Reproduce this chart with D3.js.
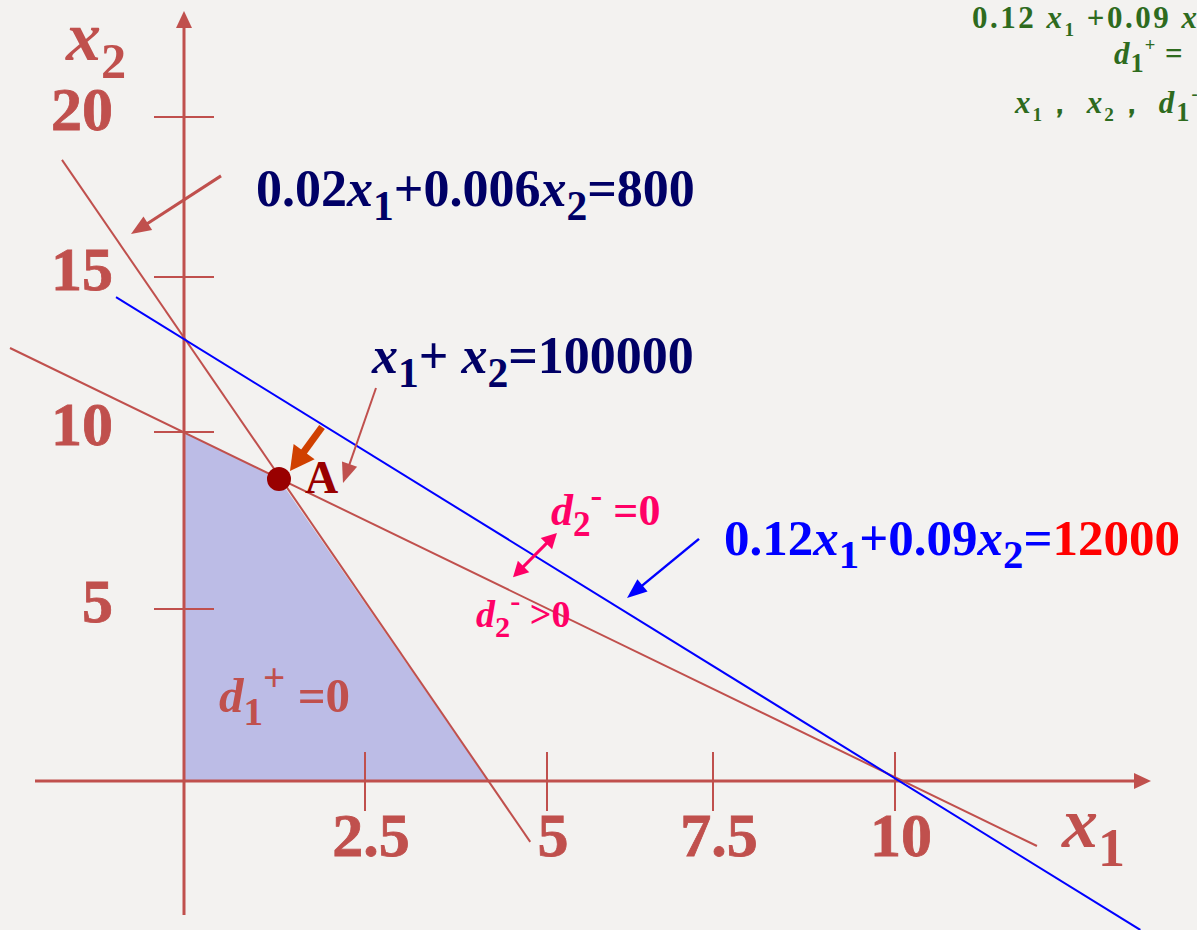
<!DOCTYPE html>
<html>
<head>
<meta charset="utf-8">
<script src="https://cdn.jsdelivr.net/npm/d3@7"></script>
<style>
  html, body { margin: 0; padding: 0; background: #f3f2f0; }
  svg { display: block; }
  text { font-family: "Liberation Serif", "Times New Roman", serif; font-weight: bold; }
</style>
</head>
<body>
<div id="chart"></div>
<script>
// ---- DATA ----
const xTicks = [2.5, 5, 7.5, 10];
const xTickLabels = ["2.5", "5", "7.5", "10"];
const yTicks = [5, 10, 15, 20];
const yTickLabels = ["5", "10", "15", "20"];

// constraint lines, endpoints in (x1, x2)
const goalLine1 = [[-1.685, 18.66], [4.77, -1.77]];   // 0.02x1+0.006x2=800
const goalLine2 = [[-2.403, 12.71], [11.95, -1.89]];  // x1+x2=100000
const goalLine3 = [[-0.939, 14.35], [13.37, -4.33]];  // 0.12x1+0.09x2=12000

// region where d1+ = 0
const feasibleRegion = [[0, 0], [0, 10], [1.312, 8.67], [4.19, 0]];
const pointA = [1.312, 8.67];

// annotation arrows (from -> to)
const arrowLine1 = [[0.511, 18.16], [-0.732, 16.34]];
const arrowLine2 = [[2.651, 11.42], [2.196, 8.56]];
const arrowA = [[1.906, 10.16], [1.464, 8.90]];
const arrowLine3 = [[7.289, 6.98], [6.205, 5.31]];
const arrowD2 = [[5.15, 7.15], [4.533, 5.90]];

// ---- SETUP ----
const W = 1197, H = 930;
const axisColor = "#c0504d";
const navy = "#000066";
const pink = "#ff0066";

const svg = d3.select("#chart").append("svg")
    .attr("width", W)
    .attr("height", H);

svg.append("rect").attr("width", W).attr("height", H).attr("fill", "#f3f2f0");

// hand drawn axes are not evenly spaced, so use polylinear scales
const x = d3.scaleLinear()
    .domain([0, 2.5, 5, 7.5, 10])
    .range([184, 365, 547, 713, 895]);
const y = d3.scaleLinear()
    .domain([0, 5, 10, 15, 20])
    .range([781, 609, 432, 277, 117]);

const line = d3.line().x(d => x(d[0])).y(d => y(d[1]));

// shaded region
svg.append("path")
    .datum(feasibleRegion)
    .attr("d", d => line(d) + "Z")
    .attr("fill", "#bcbce6");

// AXES
const x0 = x(0), y0 = y(0);
svg.append("line")
    .attr("x1", 35).attr("y1", y0).attr("x2", 1136).attr("y2", y0)
    .attr("stroke", axisColor).attr("stroke-width", 3);
svg.append("path")
    .attr("d", `M1151,${y0} L1134,${y0 - 8} L1134,${y0 + 8} Z`)
    .attr("fill", axisColor);
svg.append("line")
    .attr("x1", x0).attr("y1", 915).attr("x2", x0).attr("y2", 26)
    .attr("stroke", axisColor).attr("stroke-width", 3);
svg.append("path")
    .attr("d", `M${x0},11 L${x0 - 8},28 L${x0 + 8},28 Z`)
    .attr("fill", axisColor);

// ticks
svg.selectAll(".xtick").data(xTicks).enter().append("line")
    .attr("class", "xtick")
    .attr("x1", d => x(d)).attr("x2", d => x(d))
    .attr("y1", y0 - 29).attr("y2", y0 + 30)
    .attr("stroke", axisColor).attr("stroke-width", 2);
svg.selectAll(".ytick").data(yTicks).enter().append("line")
    .attr("class", "ytick")
    .attr("y1", d => y(d)).attr("y2", d => y(d))
    .attr("x1", x0 - 30).attr("x2", x0 + 30)
    .attr("stroke", axisColor).attr("stroke-width", 2);

svg.selectAll(".xlab").data(xTicks).enter().append("text")
    .attr("class", "xlab")
    .attr("x", d => x(d) + 6).attr("y", 856)
    .attr("text-anchor", "middle")
    .attr("font-size", 62)
    .attr("fill", axisColor)
    .attr("stroke", axisColor).attr("stroke-width", 0.8)
    .text((d, i) => xTickLabels[i]);
svg.selectAll(".ylab").data(yTicks).enter().append("text")
    .attr("class", "ylab")
    .attr("x", 113).attr("y", d => y(d) + 13)
    .attr("text-anchor", "end")
    .attr("font-size", 62)
    .attr("fill", axisColor)
    .attr("stroke", axisColor).attr("stroke-width", 0.8)
    .text((d, i) => yTickLabels[i]);

// rich text helper: parts = [text, {i: italic, sub, sup, fill, s: size factor}]
function richText(px, py, size, fill, parts, spacing) {
    const t = svg.append("text").attr("x", px).attr("y", py)
        .attr("font-size", size).attr("fill", fill);
    if (spacing) t.attr("letter-spacing", spacing);
    let cur = 0;
    parts.forEach(p => {
        if (typeof p === "string") p = { t: p };
        const off = p.sub ? size * 0.26 : p.sup ? -size * 0.42 : 0;
        const ts = t.append("tspan").text(p.t)
            .attr("dy", off - cur)
            .attr("font-size", size * (p.s || ((p.sub || p.sup) ? 0.8 : 1)));
        if (p.i) ts.attr("font-style", "italic");
        if (p.fill) ts.attr("fill", p.fill);
        cur = off;
    });
    return t;
}

// axis titles
richText(66, 60, 70, axisColor, [{ t: "x", i: true }, { t: "2", sub: true, s: 0.72 }]);
richText(1062, 847, 72, axisColor, [{ t: "x", i: true }, { t: "1", sub: true, s: 0.75 }]);

// constraint lines
const lines = [
    { pts: goalLine1, color: axisColor, w: 2 },
    { pts: goalLine2, color: axisColor, w: 2 },
    { pts: goalLine3, color: "#0000ff", w: 2 }
];
svg.selectAll(".cline").data(lines).enter().append("path")
    .attr("class", "cline")
    .attr("d", d => line(d.pts))
    .attr("fill", "none")
    .attr("stroke", d => d.color)
    .attr("stroke-width", d => d.w);

// arrows
function arrow(seg, color, width, headLen, headHalf, both) {
    const p0 = [x(seg[0][0]), y(seg[0][1])];
    const p1 = [x(seg[1][0]), y(seg[1][1])];
    const dx = p1[0] - p0[0], dy = p1[1] - p0[1];
    const len = Math.hypot(dx, dy);
    const ux = dx / len, uy = dy / len;
    const head = (tip, sx, sy) => {
        const bx = tip[0] - sx * headLen, by = tip[1] - sy * headLen;
        return `M${tip[0]},${tip[1]} L${bx - sy * headHalf},${by + sx * headHalf} L${bx + sy * headHalf},${by - sx * headHalf} Z`;
    };
    const a = both ? [p0[0] + ux * headLen * 0.8, p0[1] + uy * headLen * 0.8] : p0;
    const b = [p1[0] - ux * headLen * 0.8, p1[1] - uy * headLen * 0.8];
    svg.append("line")
        .attr("x1", a[0]).attr("y1", a[1]).attr("x2", b[0]).attr("y2", b[1])
        .attr("stroke", color).attr("stroke-width", width);
    svg.append("path").attr("d", head(p1, ux, uy)).attr("fill", color);
    if (both) svg.append("path").attr("d", head(p0, -ux, -uy)).attr("fill", color);
}

arrow(arrowLine1, axisColor, 3, 20, 8, false);
arrow(arrowLine2, axisColor, 2, 20, 8, false);
arrow(arrowA, "#d04000", 7, 24, 13, false);
arrow(arrowLine3, "#0000ff", 2.5, 20, 8, false);
arrow(arrowD2, pink, 3, 15, 8, true);

// point A
svg.append("circle")
    .attr("cx", x(pointA[0])).attr("cy", y(pointA[1]))
    .attr("r", 12)
    .attr("fill", "#990000");
svg.append("text")
    .attr("x", x(pointA[0]) + 26).attr("y", y(pointA[1]) + 14)
    .attr("font-size", 46).attr("fill", "#990000")
    .text("A");

// equations
richText(256, 206, 52, navy, ["0.02", { t: "x", i: true }, { t: "1", sub: true }, "+0.006", { t: "x", i: true }, { t: "2", sub: true }, "=800"]);
richText(372, 373, 52, navy, [{ t: "x", i: true }, { t: "1", sub: true }, "+ ", { t: "x", i: true }, { t: "2", sub: true }, "=100000"]);
richText(724, 555, 51, "#0000ff", ["0.12", { t: "x", i: true }, { t: "1", sub: true }, "+0.09", { t: "x", i: true }, { t: "2", sub: true }, "=", { t: "12000", fill: "#ff0000" }]);

richText(551, 525, 44, pink, [{ t: "d", i: true }, { t: "2", sub: true }, { t: "-", sup: true }, { t: " =0" }]);
richText(476, 627, 38, pink, [{ t: "d", i: true }, { t: "2", sub: true }, { t: "-", sup: true }, { t: " >0" }]);
richText(219, 712, 49, axisColor, [{ t: "d", i: true }, { t: "1", sub: true }, { t: "+", sup: true }, { t: " =0" }]);

// model text in the top right corner (cut off by the page edge)
const green = "#2e6b1e";
richText(972, 28, 31, green, ["0.12 ", { t: "x", i: true }, { t: "1", sub: true, s: 0.62 }, " +0.09 ", { t: "x", i: true }, "+"], 2.5);
richText(1114, 64, 31, green, [{ t: "d", i: true }, { t: "1", sub: true, s: 0.85 }, { t: "+", sup: true, s: 0.6 }, " ="], 1);
richText(1015, 113, 31, green, [{ t: "x", i: true }, { t: "1", sub: true, s: 0.62 }, "， ", { t: "x", i: true }, { t: "2", sub: true, s: 0.62 }, "， ", { t: "d", i: true }, { t: "1", sub: true, s: 0.85 }, { t: "-", sup: true, s: 0.6 }], 2);
</script>
</body>
</html>
